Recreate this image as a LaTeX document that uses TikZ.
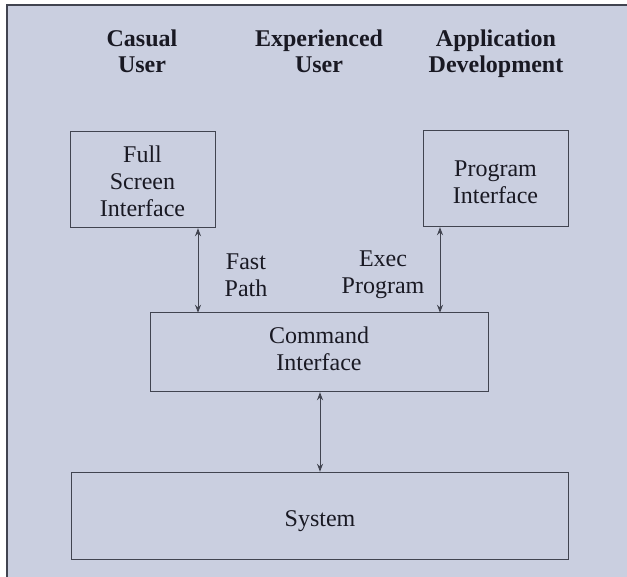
\documentclass[tikz,border=0pt]{standalone}
\usepackage{fontspec}
\setmainfont{Liberation Serif}
\usetikzlibrary{arrows.meta}
\definecolor{bgblue}{RGB}{202,207,224}
\definecolor{linegray}{RGB}{65,68,80}
\definecolor{inkc}{RGB}{25,25,35}
\tikzset{
  box/.style={draw=linegray, line width=1pt},
  lbl/.style={anchor=base, inner sep=0pt, text=inkc, font=\fontsize{24}{27}\selectfont},
  hdr/.style={lbl, font=\fontsize{24}{26}\selectfont\bfseries},
  link/.style={draw=linegray, line width=1pt, {Stealth[length=8pt,width=6pt]}-{Stealth[length=8pt,width=6pt]}}
}
\newcommand{\twol}[1]{\begin{tabular}[t]{@{}c@{}}#1\end{tabular}}
\begin{document}
\begin{tikzpicture}[x=1pt,y=-1pt]
\useasboundingbox (0,0) rectangle (627,577);
\fill[white] (0,0) rectangle (627,577);
\fill[bgblue] (7,5) rectangle (627,577);
\draw[linegray, line width=1.4pt] (7,577) -- (7,5) -- (627,5);
% headers
\node[hdr] (h1) at (142,47) {\twol{Casual\\User}};
\node[hdr] (h2) at (319,47) {\twol{Experienced\\User}};
\node[hdr] (h3) at (496,47) {\twol{Application\\Development}};
% boxes
\draw[box] (70,132) rectangle (215,228);
\node[inner sep=0pt, minimum width=145pt, minimum height=96pt] (fs) at (142.5,180) {};
\node[lbl] (fst) at (142.5,163) {\twol{Full\\Screen\\Interface}};
\draw[box] (423,131) rectangle (568,227);
\node[inner sep=0pt, minimum width=145pt, minimum height=96pt] (pi) at (495.5,179) {};
\node[lbl] (pit) at (495.5,177) {\twol{Program\\Interface}};
\draw[box] (150,313) rectangle (488,392);
\node[inner sep=0pt, minimum width=338pt, minimum height=79pt] (ci) at (319,352.5) {};
\node[lbl] (cit) at (319,344) {\twol{Command\\Interface}};
\draw[box] (71,472) rectangle (568,559);
\node[inner sep=0pt, minimum width=497pt, minimum height=87pt] (sy) at (319.5,515.5) {};
\node[lbl] (syt) at (320,526) {System};
% connector labels
\node[lbl] (fp) at (246,270) {\twol{Fast\\Path}};
\node[lbl] (ep) at (383,267) {\twol{Exec\\Program}};
% connectors
\draw[link] (fs.south -| 198,0) -- (ci.north -| 198,0);
\draw[link] (pi.south -| 440,0) -- (ci.north -| 440,0);
\draw[link] (ci.south -| 320,0) -- (sy.north -| 320,0);
\end{tikzpicture}
\end{document}
